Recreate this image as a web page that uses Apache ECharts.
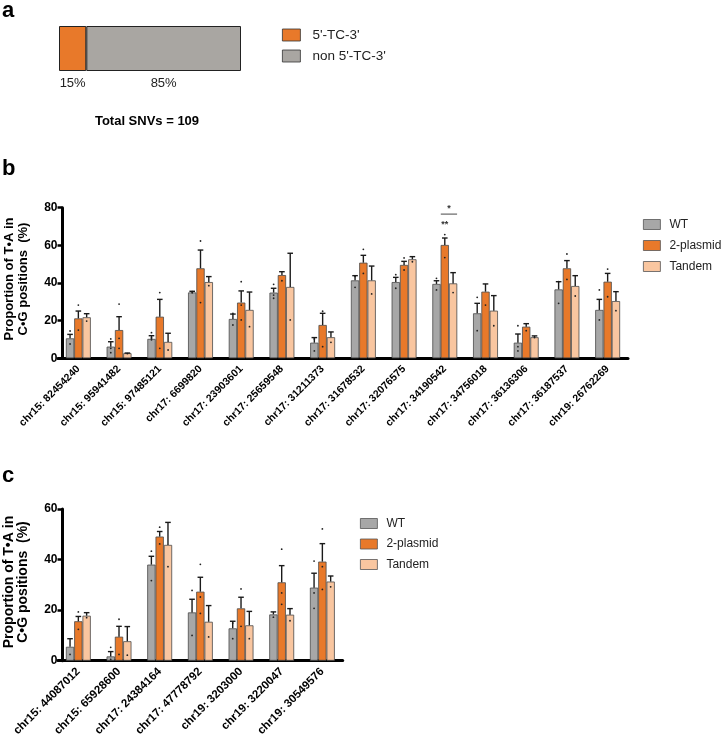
<!DOCTYPE html>
<html>
<head>
<meta charset="utf-8">
<script src="https://cdn.jsdelivr.net/npm/echarts@6/dist/echarts.min.js"></script>
<style>
html,body{margin:0;padding:0;background:#fff;}
#chart{width:722px;height:740px;}
</style>
</head>
<body>
<div id="chart"></div>
<script>
// ---------- Panel a data ----------
const contextNames = ["5'-TC-3'", "non 5'-TC-3'"];
const contextPct = [15, 85];
const totalSNVs = 109;

// ---------- Panel b data ----------
const catsB = ['chr15: 82454240','chr15: 95941482','chr15: 97485121','chr17: 6699820','chr17: 23903601',
  'chr17: 25659548','chr17: 31211373','chr17: 31678532','chr17: 32076575','chr17: 34190542',
  'chr17: 34756018','chr17: 36136306','chr17: 36187537','chr19: 26762269'];
const wtB   = [10.6, 6.2, 10.3, 35.0, 20.9, 34.9, 8.3, 41.4, 40.5, 39.5, 23.9, 8.3, 36.6, 25.7];
const wtSemB= [2.1, 2.6, 1.7, 0.6, 2.6, 2.3, 2.7, 2.5, 2.5, 1.7, 5.3, 4.6, 4.1, 5.6];
const plB   = [21.2, 15.0, 22.1, 47.8, 29.6, 44.2, 17.7, 50.8, 49.6, 60.2, 35.4, 16.8, 47.8, 40.7];
const plSemB= [3.9, 7.1, 9.2, 9.7, 6.2, 1.8, 6.2, 3.9, 1.9, 3.7, 4.1, 1.6, 4.1, 4.4];
const tdB   = [21.8, 2.7, 8.7, 40.5, 25.7, 37.9, 11.2, 41.4, 52.6, 39.8, 25.3, 11.2, 38.4, 30.4];
const tdSemB= [1.9, 0.1, 4.6, 2.9, 9.5, 17.9, 2.8, 7.6, 1.4, 5.7, 8.0, 0.7, 5.5, 5.0];
const wtDotsB = [[14.5, 7.6], [10.3, 5.3, 3.0], [13.6, 10.8, 9.8], [35.4, 34.8], [23.9, 17.7], [39.3, 33.6, 31.9],
  [10.3, 3.9], [43.5, 37.7], [44.4, 37.2], [42.5, 36.3], [32.4, 14.7], [17.3, 6.2, 3.9], [40.7, 29.2], [36.3, 20.4]];
const plDotsB = [[28.3, 15.0], [28.8, 10.6, 5.3], [34.9, 5.3], [62.3, 29.6], [40.7, 28.3, 20.4], [41.2],
  [25.0, 6.2], [57.9, 45.1], [53.3, 46.9], [65.7, 53.5], [28.3], [14.7], [55.4, 41.9], [47.4, 32.7]];
const tdDotsB = [[19.8], [2.5], [4.4], [38.6], [16.8], [20.4], [8.5], [34.2], [51.3], [34.9], [17.3], [11.0], [33.1], [25.3]];
// significance: [category, level, fromBar, toBar, text]
const sigB = [[9, 71.3, 1, 1, '**'], [9, 76.6, 1, 2, '*']];

// ---------- Panel c data ----------
const catsC = ['chr15: 44087012','chr15: 65928600','chr17: 24384164','chr17: 47778792','chr19: 3203000','chr19: 3220047','chr19: 30549576'];
const wtC   = [5.5, 1.7, 38.0, 19.1, 12.8, 18.3, 28.9];
const wtSemC= [3.2, 1.9, 3.3, 5.2, 2.8, 1.0, 5.7];
const plC   = [15.6, 9.5, 49.1, 27.3, 20.7, 31.0, 39.2];
const plSemC= [1.9, 4.1, 2.0, 5.7, 4.4, 6.6, 7.1];
const tdC   = [17.8, 7.7, 45.8, 15.4, 14.0, 18.2, 31.3];
const tdSemC= [1.2, 5.8, 8.9, 6.4, 5.5, 2.4, 2.2];
const wtDotsC = [[2.5], [5.3, 0.5], [43.3, 31.7], [27.8, 10.0], [14.9, 8.7], [17.2], [39.4, 26.8, 20.7]];
const plDotsC = [[19.3, 12.4], [16.4, 2.5], [52.8, 46.2], [38.1, 25.2, 18.7], [28.4, 13.6], [44.1, 26.8, 22.3], [52.1, 37.2, 28.2]];
const tdDotsC = [[17.0], [2.2], [37.2], [9.4], [8.7], [15.8], [29.2]];

const groupNames = ['WT', '2-plasmid', 'Tandem'];
const yTitle = 'Proportion of T\u2022A in\nC\u2022G positions  (%)';

// ---------- styling ----------
const FONT = '"Liberation Sans", Arial, Helvetica, sans-serif';
const COLORS = ['#A7A7A7', '#E8792A', '#F9C6A0'];
const A_COLORS = ['#E8792A', '#A9A6A2'];
const BW = 8.3;

const chart = echarts.init(document.getElementById('chart'), null, {renderer: 'canvas'});

function barSeries(axisIdx, k, means) {
  return {
    type: 'bar', name: groupNames[k], xAxisIndex: axisIdx, yAxisIndex: axisIdx,
    data: means, barWidth: BW, barGap: '0%',
    itemStyle: {color: COLORS[k], borderColor: '#4a4a4a', borderWidth: 0.8},
    z: 2, silent: true
  };
}
function errSeries(axisIdx, k, means, sems) {
  return {
    type: 'custom', name: groupNames[k] + ' err', xAxisIndex: axisIdx, yAxisIndex: axisIdx,
    data: means.map((m, i) => [i, m, sems[i]]), z: 4, silent: true,
    renderItem: function (params, api) {
      const c = api.coord([api.value(0), api.value(1)]);
      const t = api.coord([api.value(0), api.value(1) + api.value(2)]);
      const x = c[0] + (k - 1) * BW;
      const st = {stroke: '#1a1a1a', lineWidth: 1.4};
      return {type: 'group', children: [
        {type: 'line', shape: {x1: x, y1: c[1], x2: x, y2: t[1]}, style: st},
        {type: 'line', shape: {x1: x - 2.8, y1: t[1], x2: x + 2.8, y2: t[1]}, style: st}
      ]};
    }
  };
}
function dotSeries(axisIdx, k, dots) {
  const d = [];
  dots.forEach((arr, i) => arr.forEach(v => d.push([i, v])));
  return {
    type: 'custom', name: groupNames[k] + ' pts', xAxisIndex: axisIdx, yAxisIndex: axisIdx,
    data: d, z: 3, silent: true,
    renderItem: function (params, api) {
      const c = api.coord([api.value(0), api.value(1)]);
      return {type: 'circle', shape: {cx: c[0] + (k - 1) * BW, cy: c[1], r: 0.9}, style: {fill: '#222'}};
    }
  };
}
function sigSeries(axisIdx, sig) {
  return {
    type: 'custom', name: 'sig', xAxisIndex: axisIdx, yAxisIndex: axisIdx,
    data: sig.map(s => [s[0], s[1]]), z: 5, silent: true,
    renderItem: function (params, api) {
      const s = sig[params.dataIndex];
      const c = api.coord([s[0], s[1]]);
      const x1 = c[0] + (s[2] - 1) * BW, x2 = c[0] + (s[3] - 1) * BW;
      const children = [];
      if (s[2] !== s[3]) {
        children.push({type: 'line', shape: {x1: x1 - 4, y1: c[1], x2: x2 + 4, y2: c[1]}, style: {stroke: '#333', lineWidth: 0.9}});
        children.push({type: 'text', style: {text: s[4], x: (x1 + x2) / 2, y: c[1] - 1, textAlign: 'center', textVerticalAlign: 'bottom', font: 'bold 9px ' + FONT, fill: '#333'}});
      } else {
        children.push({type: 'text', style: {text: s[4], x: x1, y: c[1], textAlign: 'center', textVerticalAlign: 'middle', font: 'bold 9px ' + FONT, fill: '#333'}});
      }
      return {type: 'group', children: children};
    }
  };
}

function catAxis(gridIdx, cats, fs) {
  return {
    type: 'category', gridIndex: gridIdx, data: cats,
    axisLine: {lineStyle: {color: '#000', width: 3}},
    axisTick: {alignWithLabel: true, length: 6, lineStyle: {color: '#000', width: 3}},
    axisLabel: {rotate: 45, interval: 0, margin: 9, color: '#000', fontSize: fs, fontWeight: 'bold', fontFamily: FONT},
    splitLine: {show: false}
  };
}
function valAxis(gridIdx, max) {
  return {
    type: 'value', gridIndex: gridIdx, min: 0, max: max, interval: 20, offset: -4.5,
    axisLine: {show: true, lineStyle: {color: '#000', width: 3}},
    axisTick: {show: true, length: 5, lineStyle: {color: '#000', width: 2.5}},
    axisLabel: {color: '#000', fontSize: 12, fontWeight: 'bold', fontFamily: FONT, margin: 5},
    splitLine: {show: false}
  };
}

const series = [
  {type: 'bar', name: contextNames[0], xAxisIndex: 0, yAxisIndex: 0, stack: 'a', data: [contextPct[0]], barWidth: 45,
   itemStyle: {color: A_COLORS[0], borderColor: '#222', borderWidth: 1},
   label: {show: true, position: 'bottom', distance: 6, formatter: '{c}%', color: '#222', fontSize: 13, fontFamily: FONT}},
  {type: 'bar', name: contextNames[1], xAxisIndex: 0, yAxisIndex: 0, stack: 'a', data: [contextPct[1]], barWidth: 45,
   itemStyle: {color: A_COLORS[1], borderColor: '#222', borderWidth: 1},
   label: {show: true, position: 'bottom', distance: 6, formatter: '{c}%', color: '#222', fontSize: 13, fontFamily: FONT}},
  barSeries(1, 0, wtB), barSeries(1, 1, plB), barSeries(1, 2, tdB),
  dotSeries(1, 0, wtDotsB), dotSeries(1, 1, plDotsB), dotSeries(1, 2, tdDotsB),
  errSeries(1, 0, wtB, wtSemB), errSeries(1, 1, plB, plSemB), errSeries(1, 2, tdB, tdSemB),
  sigSeries(1, sigB),
  barSeries(2, 0, wtC), barSeries(2, 1, plC), barSeries(2, 2, tdC),
  dotSeries(2, 0, wtDotsC), dotSeries(2, 1, plDotsC), dotSeries(2, 2, tdDotsC),
  errSeries(2, 0, wtC, wtSemC), errSeries(2, 1, plC, plSemC), errSeries(2, 2, tdC, tdSemC)
];

const legendText = {color: '#222', fontSize: 12, fontFamily: FONT, padding: [0, 0, 0, 4]};
const legendItem = {borderWidth: 0.8, borderColor: '#555'};
const option = {
  animation: false,
  backgroundColor: '#fff',
  grid: [
    {left: 59, top: 26, width: 182, height: 45},
    {left: 58, top: 207.7, width: 570, height: 150.6},
    {left: 58, top: 509, width: 284.7, height: 151.7}
  ],
  xAxis: [
    {type: 'value', gridIndex: 0, min: 0, max: 100, show: false},
    catAxis(1, catsB, 10.5),
    catAxis(2, catsC, 11.5)
  ],
  yAxis: [
    {type: 'category', gridIndex: 0, data: ['SNVs'], show: false},
    valAxis(1, 80),
    valAxis(2, 60)
  ],
  legend: [
    {data: contextNames, icon: 'rect', left: 282, top: 28, padding: 0, orient: 'vertical', itemWidth: 18, itemHeight: 12, itemGap: 7,
     textStyle: Object.assign({}, legendText, {fontSize: 13.5, padding: [0, 0, 0, 7]}), itemStyle: {borderWidth: 0.8, borderColor: '#333'}, selectedMode: false},
    {data: groupNames, icon: 'rect', left: 643, top: 218.5, padding: 0, orient: 'vertical', itemWidth: 17, itemHeight: 10, itemGap: 9, textStyle: legendText, itemStyle: legendItem, selectedMode: false},
    {data: groupNames, icon: 'rect', left: 360, top: 517.5, padding: 0, orient: 'vertical', itemWidth: 17, itemHeight: 10, itemGap: 8.5, textStyle: legendText, itemStyle: legendItem, selectedMode: false}
  ],
  graphic: [
    {type: 'text', left: 2, top: 0, style: {text: 'a', font: 'bold 22px ' + FONT, fill: '#000'}},
    {type: 'text', left: 2, top: 158, style: {text: 'b', font: 'bold 22px ' + FONT, fill: '#000'}},
    {type: 'text', left: 2, top: 465, style: {text: 'c', font: 'bold 22px ' + FONT, fill: '#000'}},
    {type: 'text', x: 147, y: 121, style: {text: 'Total SNVs = ' + totalSNVs, font: 'bold 13px ' + FONT, fill: '#000', textAlign: 'center', textVerticalAlign: 'middle'}},
    {type: 'text', x: 16, y: 279, rotation: Math.PI / 2, style: {text: yTitle, font: 'bold 13px ' + FONT, fill: '#000', textAlign: 'center', textVerticalAlign: 'middle', lineHeight: 14}},
    {type: 'text', x: 16, y: 582, rotation: Math.PI / 2, style: {text: yTitle, font: 'bold 14px ' + FONT, fill: '#000', textAlign: 'center', textVerticalAlign: 'middle', lineHeight: 14}}
  ],
  series: series
};
chart.setOption(option);
</script>
</body>
</html>
